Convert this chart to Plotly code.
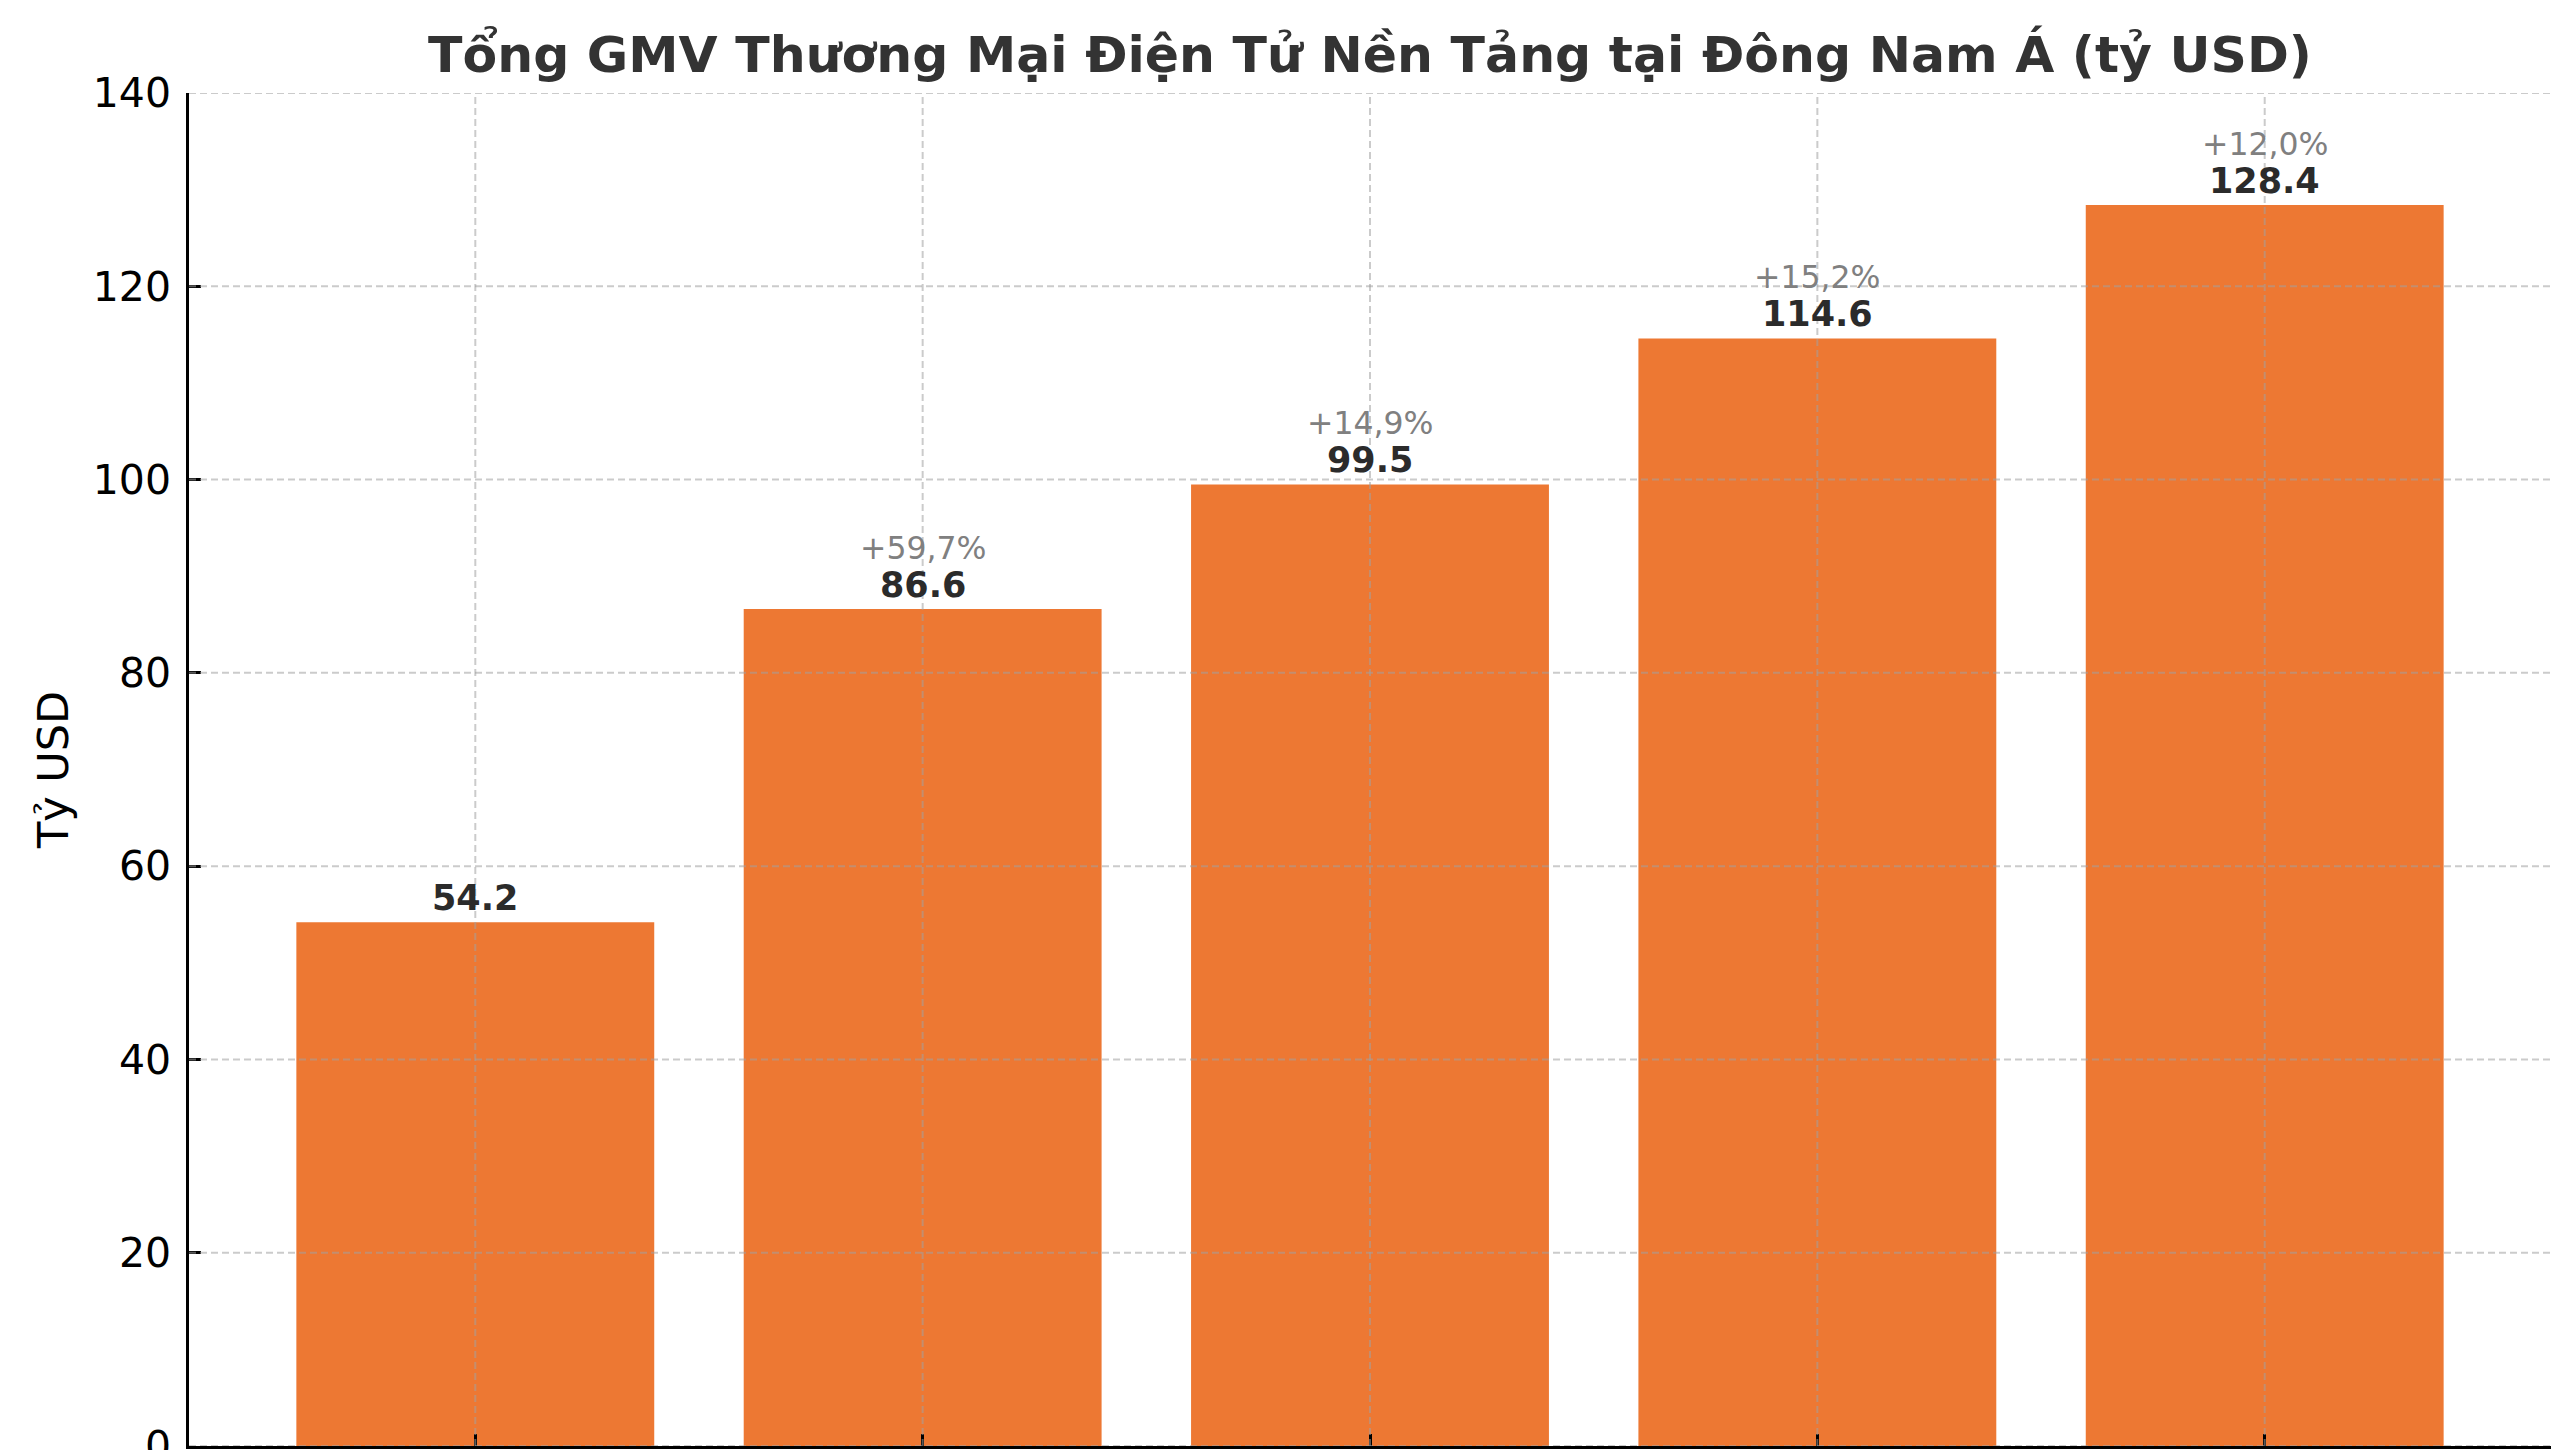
import plotly.graph_objects as go

categories = ["2020", "2021", "2022", "2023", "2024"]
gmv_values = [54.2, 86.6, 99.5, 114.6, 128.4]
growth_labels = ["", "+59,7%", "+14,9%", "+15,2%", "+12,0%"]
y_ticks = [0, 20, 40, 60, 80, 100, 120, 140]

title_text = "Tổng GMV Thương Mại Điện Tử Nền Tảng tại Đông Nam Á (tỷ USD)"
y_title = "Tỷ USD"

BAR_COLOR = "#ED7833"
GRID_COLOR = "rgba(160,160,160,0.55)"
FONT = "DejaVu Sans"

# the page body adds an 8px offset; figure is sized to compensate
W, H = 2552, 1442
L, R, T, B = 181, 9, 85, 4

fig = go.Figure()
fig.add_trace(go.Bar(
    x=list(range(len(categories))),
    y=gmv_values,
    width=0.8,
    marker=dict(color=BAR_COLOR, line=dict(width=0)),
    hoverinfo="skip",
))

# value labels
for i, v in enumerate(gmv_values):
    fig.add_annotation(
        x=i, y=v, xref="x", yref="y",
        text=f"<b>{v:.1f}</b>",
        showarrow=False, yanchor="bottom", yshift=2,
        font=dict(family=FONT, size=35, color="#2b2b2b"),
    )
    if growth_labels[i]:
        fig.add_annotation(
            x=i, y=v, xref="x", yref="y",
            text=growth_labels[i],
            showarrow=False, yanchor="bottom", yshift=41,
            font=dict(family=FONT, size=31.5, color="#808080"),
        )

# dashed gridlines drawn above bars
for t in y_ticks:
    fig.add_shape(type="line", xref="paper", yref="y", x0=0, x1=1, y0=t, y1=t,
                  line=dict(color=GRID_COLOR, width=2, dash="7px,4px"), layer="above")
for i in range(len(categories)):
    fig.add_shape(type="line", xref="x", yref="paper", x0=i, x1=i, y0=0, y1=1,
                  line=dict(color=GRID_COLOR, width=2, dash="7px,4px"), layer="above")

fig.update_layout(
    width=W, height=H,
    margin=dict(l=L, r=R, t=T, b=B, autoexpand=False),
    paper_bgcolor="white", plot_bgcolor="white",
    showlegend=False,
    bargap=0.2,
    title=dict(text=f"<b>{title_text}</b>", x=(L + (W - R)) / 2 / W, xanchor="center",
               y=1 - 46 / H, yanchor="middle",
               font=dict(family=FONT, size=50.5, color="#333333")),
    font=dict(family=FONT, color="black"),
)

fig.update_xaxes(
    range=[-0.64, 4.64],
    tickmode="array", tickvals=list(range(len(categories))), ticktext=categories,
    showticklabels=False,
    showgrid=False, zeroline=False,
    showline=True, linecolor="black", linewidth=2.5,
    ticks="inside", ticklen=12, tickwidth=2.5, tickcolor="black",
    tickfont=dict(family=FONT, size=41, color="black"),
    automargin=False,
)
fig.update_yaxes(
    range=[0, 140],
    tickmode="array", tickvals=y_ticks, ticktext=[str(t) for t in y_ticks],
    showgrid=False, zeroline=False,
    showline=True, linecolor="black", linewidth=2.5,
    ticks="inside", ticklen=12, tickwidth=2.5, tickcolor="black",
    tickfont=dict(family=FONT, size=41, color="black"),
    ticklabelstandoff=7,
    ticklabeloverflow="allow",
    title=dict(text=y_title, font=dict(family=FONT, size=43, color="black"), standoff=11),
    automargin=False,
)

fig.write_html("out.html")
